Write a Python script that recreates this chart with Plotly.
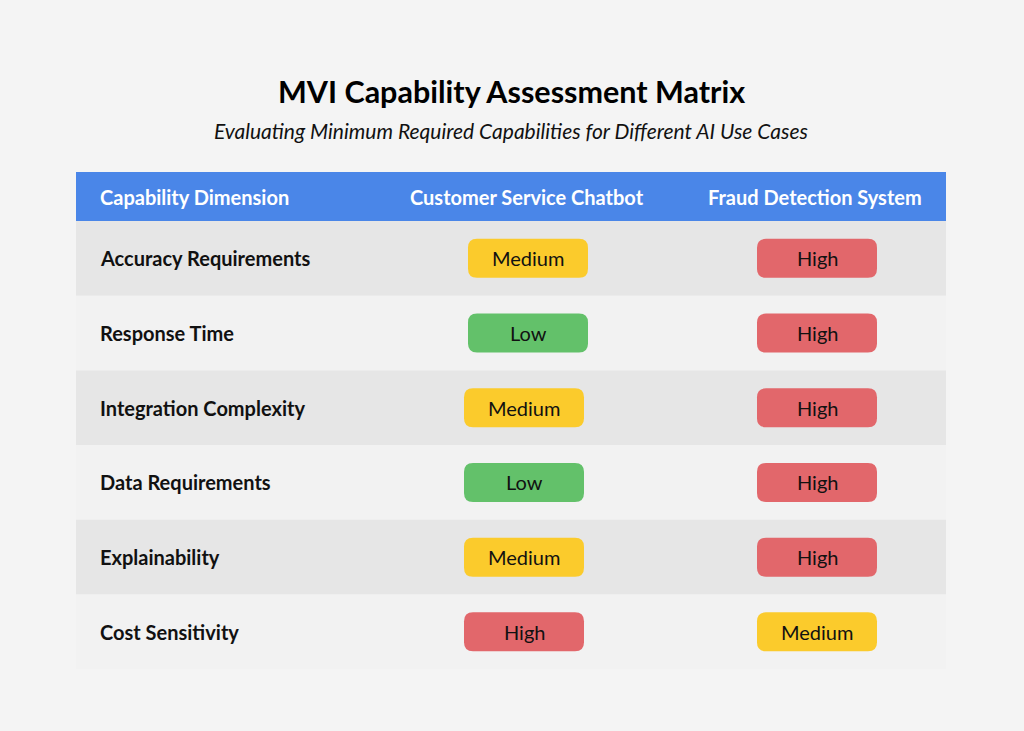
import plotly.graph_objects as go

# ---- data ----
dimensions = ["Accuracy Requirements", "Response Time", "Integration Complexity",
              "Data Requirements", "Explainability", "Cost Sensitivity"]
chatbot = ["Medium", "Low", "Medium", "Low", "Medium", "High"]
fraud = ["High", "High", "High", "High", "High", "Medium"]
headers = ["Capability Dimension", "Customer Service Chatbot", "Fraud Detection System"]

TITLE = "MVI Capability Assessment Matrix"
SUBTITLE = "Evaluating Minimum Required Capabilities for Different AI Use Cases"

level_colors = {"Low": "#63c16a", "Medium": "#fbcb2c", "High": "#e2676b"}

FONT = "Lato"
W, H = 1024, 731

# table geometry (pixels)
x0, x1 = 76, 946
head_top, head_bot = 172, 221
row_h = 74.7
label_x = 98
col_centers = [None, 526, 817]
pill_w, pill_h, r = 120, 39, 9


def rounded(xa, ya, xb, yb, rad):
    return (f"M {xa+rad},{ya} L {xb-rad},{ya} Q {xb},{ya} {xb},{ya+rad} "
            f"L {xb},{yb-rad} Q {xb},{yb} {xb-rad},{yb} L {xa+rad},{yb} "
            f"Q {xa},{yb} {xa},{yb-rad} L {xa},{ya+rad} Q {xa},{ya} {xa+rad},{ya} Z")


shapes = []
annotations = []

# header bar
shapes.append(dict(type="rect", x0=x0, x1=x1, y0=head_top, y1=head_bot,
                   fillcolor="#4a86e8", line_width=0, layer="below"))
hy = (head_top + head_bot) / 2
annotations.append(dict(x=label_x, y=hy, text=f"<b>{headers[0]}</b>", xanchor="left",
                        font=dict(color="white", size=20)))
annotations.append(dict(x=527, y=hy, text=f"<b>{headers[1]}</b>",
                        font=dict(color="white", size=20)))
annotations.append(dict(x=815, y=hy, text=f"<b>{headers[2]}</b>",
                        font=dict(color="white", size=20)))

for i, dim in enumerate(dimensions):
    top = head_bot + i * row_h
    bot = top + row_h
    cy = (top + bot) / 2
    fill = "#e6e6e6" if i % 2 == 0 else "#f2f2f2"
    shapes.append(dict(type="rect", x0=x0, x1=x1, y0=top, y1=bot,
                       fillcolor=fill, line_width=0, layer="below"))
    annotations.append(dict(x=label_x, y=cy, text=f"<b>{dim}</b>", xanchor="left",
                            font=dict(color="#111111", size=20)))
    cx_chat = 528 if i < 2 else 524
    for cx, val in ((cx_chat, chatbot[i]), (col_centers[2], fraud[i])):
        shapes.append(dict(type="path",
                           path=rounded(cx - pill_w / 2, cy - pill_h / 2,
                                        cx + pill_w / 2, cy + pill_h / 2, r),
                           fillcolor=level_colors[val], line_width=0, layer="below"))
        annotations.append(dict(x=cx, y=cy, text=val,
                                font=dict(color="#111111", size=20)))

annotations.append(dict(x=511, y=91, text=f"<b>{TITLE}</b>",
                        font=dict(color="#000000", size=30.5)))
annotations.append(dict(x=511, y=130, text=f"<i>{SUBTITLE}</i>",
                        font=dict(color="#111111", size=21)))

for a in annotations:
    a.update(xref="x", yref="y", showarrow=False)
    a.setdefault("xanchor", "center")
    a["yanchor"] = "middle"

fig = go.Figure()
fig.add_trace(go.Scatter(x=[0, W], y=[0, H], mode="markers",
                         marker=dict(opacity=0), hoverinfo="skip", showlegend=False))
fig.update_layout(
    width=W, height=H,
    margin=dict(l=0, r=0, t=0, b=0),
    paper_bgcolor="#f4f4f4", plot_bgcolor="#f4f4f4",
    font=dict(family=FONT),
    shapes=shapes, annotations=annotations,
    xaxis=dict(range=[0, W], visible=False, fixedrange=True),
    yaxis=dict(range=[H, 0], visible=False, fixedrange=True),
)

fig.write_html("out.html", config={"displayModeBar": False},
               post_script="document.body.style.margin='0';document.body.style.overflow='hidden';")
